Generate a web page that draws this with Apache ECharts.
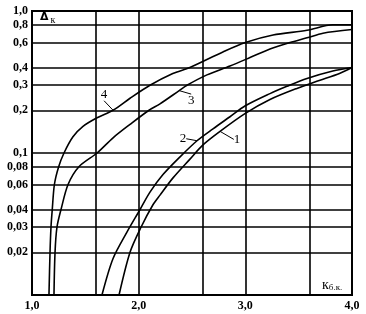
<!DOCTYPE html>
<html>
<head>
<meta charset="utf-8">
<script src="https://cdn.jsdelivr.net/npm/echarts@6/dist/echarts.min.js"></script>
<style>html,body{margin:0;padding:0;background:#fff}#c{width:366px;height:314px}</style>
</head>
<body>
<div id="c"></div>
<script>
// ---- data ----
var xTicks = [1, 2, 3, 4];
var xTickLabels = ['1,0', '2,0', '3,0', '4,0'];
var xMinorGrid = [1.6, 2.6, 3.6];
var yTicks = [0.02, 0.03, 0.04, 0.06, 0.08, 0.1, 0.2, 0.3, 0.4, 0.6, 0.8, 1.0];
var yTickLabels = ['0,02', '0,03', '0,04', '0,06', '0,08', '0,1', '0,2', '0,3', '0,4', '0,6', '0,8', '1,0'];

var curveNames = ['1', '2', '3', '4'];
var curve1X = [1.816, 1.919, 2.022, 2.134, 2.2, 2.322, 2.481, 2.603, 2.763, 3.0, 3.231, 3.484, 3.7, 3.888, 4.0];
var curve1Y = [0.01, 0.02, 0.03, 0.0432, 0.0505, 0.0668, 0.0906, 0.114, 0.142, 0.19, 0.238, 0.285, 0.325, 0.365, 0.4];
var curve2X = [1.656, 1.759, 1.89, 2.013, 2.106, 2.228, 2.388, 2.547, 2.697, 2.856, 3.0, 3.231, 3.39, 3.578, 3.82, 4.0];
var curve2Y = [0.01, 0.018, 0.0277, 0.04, 0.053, 0.0705, 0.094, 0.122, 0.148, 0.18, 0.215, 0.262, 0.295, 0.335, 0.378, 0.4];
var curve3X = [1.206, 1.216, 1.234, 1.272, 1.338, 1.44, 1.61, 1.76, 1.919, 2.097, 2.2, 2.38, 2.453, 2.64, 2.856, 3.044, 3.231, 3.419, 3.578, 3.728, 4.0];
var curve3Y = [0.01, 0.02, 0.03, 0.04, 0.06, 0.08, 0.1, 0.128, 0.159, 0.2, 0.222, 0.275, 0.3, 0.355, 0.41, 0.47, 0.54, 0.6, 0.647, 0.698, 0.741];
var curve4X = [1.159, 1.169, 1.178, 1.19, 1.21, 1.25, 1.30, 1.384, 1.478, 1.61, 1.76, 1.919, 2.106, 2.32, 2.48, 2.79, 3.0, 3.26, 3.578, 3.82, 4.0];
var curve4Y = [0.01, 0.02, 0.03, 0.04, 0.06, 0.08, 0.1, 0.13, 0.154, 0.177, 0.2, 0.243, 0.3, 0.363, 0.4, 0.515, 0.6, 0.678, 0.731, 0.8, 0.8];
// index of the point each curve's number label is attached to
var labelAt = [8, 7, 11, 10];

var FONT = 'Liberation Serif';
var chart = echarts.init(document.getElementById('c'), null, {renderer: 'canvas'});

function pairs(xs, ys) { return xs.map(function (x, i) { return [x, ys[i]]; }); }
var curves = [[curve1X, curve1Y], [curve2X, curve2Y], [curve3X, curve3Y], [curve4X, curve4Y]];
var labelShift = [{dx: 17, dy: 8}, {dx: -14, dy: -2}, {dx: 12, dy: 10}, {dx: -9, dy: -16}];

var series = curves.map(function (c, si) {
  var d = pairs(c[0], c[1]).map(function (p, i) {
    if (i === labelAt[si]) {
      return {value: p, label: {show: true, formatter: curveNames[si]}, labelLine: {show: true}};
    }
    return p;
  });
  return {
    type: 'line', name: curveNames[si], data: d, smooth: 0.3,
    showSymbol: true, showAllSymbol: true, symbol: 'circle', symbolSize: 0.1,
    itemStyle: {color: 'rgba(0,0,0,0)'},
    lineStyle: {color: '#000', width: 1.6}, silent: true, animation: false,
    label: {show: false, color: '#000', opacity: 1, fontFamily: FONT, fontSize: 13, position: 'inside'},
    labelLine: {show: true, lineStyle: {color: '#000', width: 1}, length2: 0},
    labelLayout: labelShift[si]
  };
});

// grid lines as mark lines
series.push({
  type: 'line', data: [], silent: true, animation: false,
  markLine: {
    silent: true, symbol: ['none', 'none'], animation: false,
    lineStyle: {color: '#000', width: 1.6, type: 'solid'},
    label: {show: false},
    data: xMinorGrid.map(function (v) { return {xAxis: v}; })
  }
});
series.push({
  type: 'line', data: [], silent: true, animation: false,
  markLine: {
    silent: true, symbol: ['none', 'none'], animation: false,
    lineStyle: {color: '#000', width: 1.6, type: 'solid'},
    label: {show: true, position: 'start', distance: 4, color: '#000', fontFamily: FONT, fontSize: 12, fontWeight: 'bold'},
    data: yTicks.map(function (v, i) { return {yAxis: v, label: {formatter: yTickLabels[i]}}; })
  }
});

chart.setOption({
  backgroundColor: '#fff',
  animation: false,
  grid: {left: 32, top: 11, right: 14, bottom: 19, show: true, borderColor: '#000', borderWidth: 2, backgroundColor: 'transparent'},
  xAxis: {
    type: 'value', min: 1, max: 4, interval: 1,
    axisLine: {show: false}, axisTick: {show: false},
    splitLine: {show: true, lineStyle: {color: '#000', width: 1.6}},
    axisLabel: {
      color: '#000', fontFamily: FONT, fontSize: 12, fontWeight: 'bold', margin: 5,
      formatter: function (v) { var i = xTicks.indexOf(v); return i >= 0 ? xTickLabels[i] : ''; }
    }
  },
  yAxis: {
    type: 'log', logBase: 10, min: 0.01, max: 1,
    axisLine: {show: false}, axisTick: {show: false}, splitLine: {show: false}, minorSplitLine: {show: false},
    axisLabel: {show: false}
  },
  graphic: [
    {type: 'text', left: 40, top: 12, style: {text: '{a|Δ}{b|к}', rich: {
      a: {fontFamily: 'DejaVu Sans', fontSize: 11, fontWeight: 'bold', fill: '#000'},
      b: {fontFamily: FONT, fontSize: 10, fill: '#000', padding: [5, 0, 0, 2]}
    }}},
    {type: 'text', left: 322, top: 278, style: {text: '{a|к}{b|б.к.}', rich: {
      a: {fontFamily: FONT, fontSize: 14, fill: '#000'},
      b: {fontFamily: FONT, fontSize: 9, fill: '#000', padding: [6, 0, 0, 0]}
    }}}
  ],
  series: series
});
</script>
</body>
</html>
